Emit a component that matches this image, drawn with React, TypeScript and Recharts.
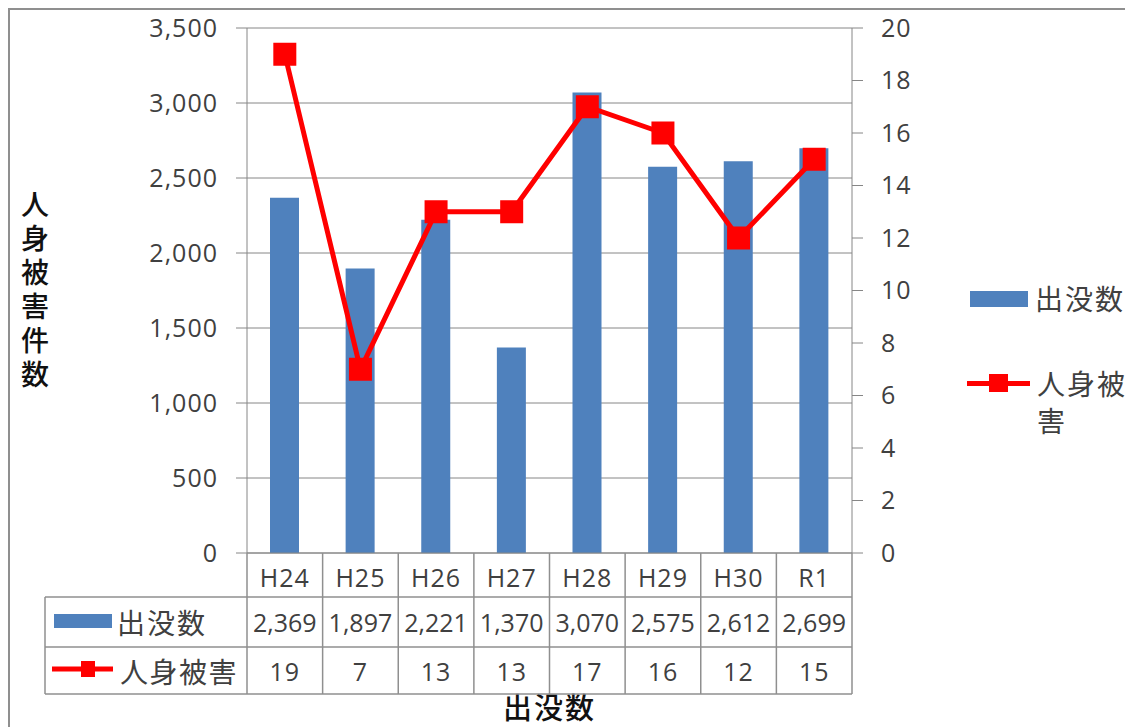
import React from 'react';
import { ComposedChart, Bar, Line, XAxis, YAxis, CartesianGrid, Legend } from 'recharts';

// Fiscal years (Heisei 24 – Reiwa 1)
const years = ['H24', 'H25', 'H26', 'H27', 'H28', 'H29', 'H30', 'R1'];
// Bear sightings per year
const sightings = [2369, 1897, 2221, 1370, 3070, 2575, 2612, 2699];
// Human injury cases per year
const injuries = [19, 7, 13, 13, 17, 16, 12, 15];

const leftTicks = [0, 500, 1000, 1500, 2000, 2500, 3000, 3500];
const rightTicks = [0, 2, 4, 6, 8, 10, 12, 14, 16, 18, 20];

const SIGHTINGS_NAME = '出没数';
const INJURIES_NAME = '人身被害';
const Y_TITLE = '人身被害件数';
const X_TITLE = '出没数';

const data = years.map((year, i) => ({
  year,
  sightings: sightings[i],
  injuries: injuries[i],
}));

// layout
const W = 1123;
const H = 717;
const MARGIN = { top: 18, right: 201, bottom: 14, left: 137 };
const LEFT_AXIS_W = 100;
const RIGHT_AXIS_W = 80;
const X_AXIS_H = 160;
const PLOT_LEFT = MARGIN.left + LEFT_AXIS_W;
const PLOT_RIGHT = W - MARGIN.right - RIGHT_AXIS_W;
const PLOT_BOTTOM = H - MARGIN.bottom - X_AXIS_H;
const BAND = (PLOT_RIGHT - PLOT_LEFT) / years.length;

const TABLE_LEFT = 35;
const ROW1 = 587;
const ROW2 = 637;
const ROW3 = 684;

const BLUE = '#4F81BD';
const RED = '#FF0000';
const GRID = '#868686';
const TABLE_LINE = '#8f8f8f';
const TEXT = '#404040';
const NUM_FONT = "'Open Sans', 'Noto Sans CJK JP', sans-serif";
const CJK_FONT = "'Noto Sans CJK JP', sans-serif";

const fmt = (v: number) => v.toLocaleString('en-US');

const SquareDot = (p: any) => {
  if (p.cx == null || p.cy == null) return null;
  const s = 23;
  return <rect key={`dot-${p.index}`} x={p.cx - s / 2} y={p.cy - s / 2} width={s} height={s} fill={RED} />;
};

// Category labels plus the data table under the plot
const TableTick = (props: any) => {
  const { x, payload } = props;
  const i: number = payload.index;
  const left = x - BAND / 2;
  const right = x + BAND / 2;
  const numStyle = { fontFamily: NUM_FONT, fontSize: 25, fill: TEXT, letterSpacing: 1 } as const;
  return (
    <g>
      {i === 0 && (
        <g>
          <line x1={TABLE_LEFT} y1={ROW1} x2={PLOT_RIGHT} y2={ROW1} stroke={TABLE_LINE} strokeWidth={1.5} />
          <line x1={TABLE_LEFT} y1={ROW2} x2={PLOT_RIGHT} y2={ROW2} stroke={TABLE_LINE} strokeWidth={1.5} />
          <line x1={TABLE_LEFT} y1={ROW3} x2={PLOT_RIGHT} y2={ROW3} stroke={TABLE_LINE} strokeWidth={1.5} />
          <line x1={TABLE_LEFT} y1={ROW1} x2={TABLE_LEFT} y2={ROW3} stroke={TABLE_LINE} strokeWidth={1.5} />
          <line x1={left} y1={PLOT_BOTTOM} x2={left} y2={ROW3} stroke={TABLE_LINE} strokeWidth={1.5} />
          <rect x={44} y={604} width={58} height={14} fill={BLUE} />
          <text x={107} y={(ROW1 + ROW2) / 2} dominantBaseline="central" fontFamily={CJK_FONT} fontSize={28} fill={TEXT} letterSpacing={2}>
            {SIGHTINGS_NAME}
          </text>
          <line x1={42} y1={659} x2={103} y2={659} stroke={RED} strokeWidth={5} />
          <rect x={71} y={651} width={14} height={16} fill={RED} />
          <text x={110} y={(ROW2 + ROW3) / 2} dominantBaseline="central" fontFamily={CJK_FONT} fontSize={28} fill={TEXT} letterSpacing={1.5}>
            {INJURIES_NAME}
          </text>
        </g>
      )}
      <line x1={right} y1={PLOT_BOTTOM} x2={right} y2={ROW3} stroke={TABLE_LINE} strokeWidth={1.5} />
      <text x={x} y={(PLOT_BOTTOM + ROW1) / 2 + 2} textAnchor="middle" dominantBaseline="central" {...numStyle}>
        {payload.value}
      </text>
      <text x={x} y={(ROW1 + ROW2) / 2} textAnchor="middle" dominantBaseline="central" {...numStyle} letterSpacing={0}>
        {fmt(sightings[i])}
      </text>
      <text x={x} y={(ROW2 + ROW3) / 2} textAnchor="middle" dominantBaseline="central" {...numStyle}>
        {injuries[i]}
      </text>
    </g>
  );
};

// Vertical (top-to-bottom) axis title
const YTitle = () => (
  <text
    x={25}
    y={180}
    fontFamily={CJK_FONT}
    fontSize={28}
    fontWeight={500}
    fill="#111"
    letterSpacing={6}
    style={{ writingMode: 'vertical-rl' }}
  >
    {Y_TITLE}
  </text>
);

const XTitle = () => (
  <text
    x={(PLOT_LEFT + PLOT_RIGHT) / 2}
    y={696}
    textAnchor="middle"
    dominantBaseline="central"
    fontFamily={CJK_FONT}
    fontSize={29}
    fontWeight={500}
    fill="#111"
    letterSpacing={2}
  >
    {X_TITLE}
  </text>
);

const LegendContent = (props: any) => {
  const payload: any[] = props.payload || [];
  const bar = payload.find((e) => e.dataKey === 'sightings');
  const line = payload.find((e) => e.dataKey === 'injuries');
  const textStyle: React.CSSProperties = {
    position: 'absolute',
    fontFamily: CJK_FONT,
    fontSize: 28,
    lineHeight: '37px',
    color: TEXT,
    letterSpacing: 2,
    whiteSpace: 'normal',
  };
  return (
    <div style={{ position: 'relative', width: 170, height: 170 }}>
      {bar && (
        <>
          <div style={{ position: 'absolute', left: 5, top: 16, width: 58, height: 16, background: bar.color }} />
          <div style={{ ...textStyle, left: 70, top: 4.5, width: 100 }}>{bar.value}</div>
        </>
      )}
      {line && (
        <>
          <div style={{ position: 'absolute', left: 2, top: 105.5, width: 63, height: 5, background: line.color }} />
          <div style={{ position: 'absolute', left: 23.5, top: 99, width: 19, height: 18, background: line.color }} />
          <div style={{ ...textStyle, left: 72, top: 89.5, width: 100 }}>{line.value}</div>
        </>
      )}
    </div>
  );
};

export default function App() {
  return (
    <div
      style={{
        width: 1125,
        height: 719,
        boxSizing: 'border-box',
        borderLeft: `2px solid ${TABLE_LINE}`,
        borderTop: `2px solid ${TABLE_LINE}`,
        background: '#fff',
      }}
    >
      <style>{'html,body{overflow:hidden}'}</style>
      <ComposedChart width={W} height={H} data={data} margin={MARGIN}>
        <CartesianGrid yAxisId="left" vertical={false} stroke={GRID} />
        <XAxis
          dataKey="year"
          height={X_AXIS_H}
          interval={0}
          axisLine={{ stroke: GRID }}
          tickLine={false}
          tick={(p: any) => <TableTick {...p} />}
          label={{ content: () => <XTitle /> }}
        />
        <YAxis
          yAxisId="left"
          width={LEFT_AXIS_W}
          domain={[0, 3500]}
          ticks={leftTicks}
          tickFormatter={fmt}
          tickSize={11}
          tickMargin={18}
          axisLine={{ stroke: GRID }}
          tickLine={{ stroke: GRID }}
          tick={{ fill: TEXT, fontSize: 25, fontFamily: NUM_FONT, letterSpacing: 1 }}
          label={{ content: () => <YTitle /> }}
        />
        <YAxis
          yAxisId="right"
          orientation="right"
          width={RIGHT_AXIS_W}
          domain={[0, 20]}
          ticks={rightTicks}
          tickSize={11}
          tickMargin={18}
          axisLine={{ stroke: GRID }}
          tickLine={{ stroke: GRID }}
          tick={{ fill: TEXT, fontSize: 25, fontFamily: NUM_FONT, letterSpacing: 1 }}
        />
        <Legend
          layout="vertical"
          align="center"
          verticalAlign="middle"
          wrapperStyle={{ left: 955, top: 265, width: 170, height: 170 }}
          content={(p: any) => <LegendContent {...p} />}
        />
        <Bar
          yAxisId="left"
          dataKey="sightings"
          name={SIGHTINGS_NAME}
          fill={BLUE}
          barSize={29}
          isAnimationActive={false}
        />
        <Line
          yAxisId="right"
          type="linear"
          dataKey="injuries"
          name={INJURIES_NAME}
          stroke={RED}
          strokeWidth={5}
          dot={SquareDot}
          activeDot={false}
          isAnimationActive={false}
        />
      </ComposedChart>
    </div>
  );
}
